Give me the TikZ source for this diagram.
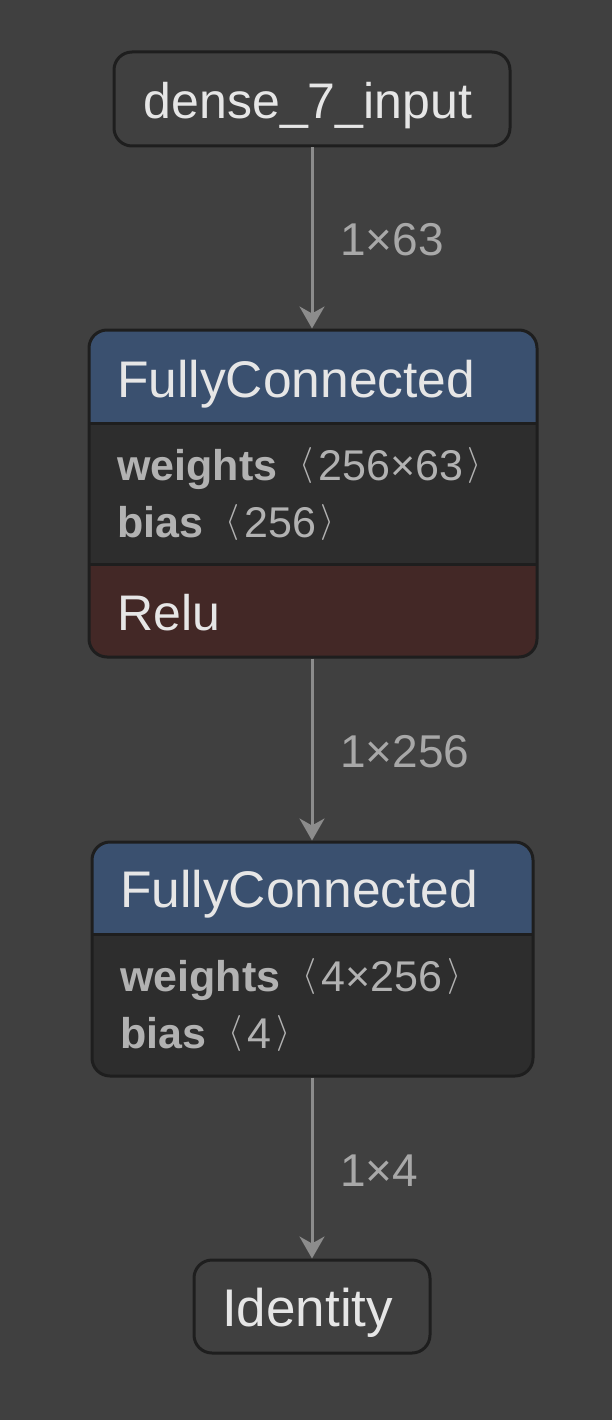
\documentclass[tikz,border=0pt]{standalone}
\usepackage{fontspec}
\setmainfont{Liberation Sans}
\usetikzlibrary{arrows.meta}
\definecolor{bg}{HTML}{404040}
\definecolor{edgeline}{HTML}{1E1E1E}
\definecolor{hdr}{HTML}{3A506F}
\definecolor{attrbg}{HTML}{2D2D2D}
\definecolor{actbg}{HTML}{432826}
\definecolor{titletxt}{HTML}{E6E6E6}
\definecolor{attrtxt}{HTML}{B2B2B2}
\definecolor{arrowc}{HTML}{8C8C8C}
\definecolor{labeltxt}{HTML}{A8A8A8}
\tikzset{
  plainbox/.style={draw=edgeline, line width=3pt, rounded corners=18pt, fill=bg, inner sep=0pt},
  outlinebox/.style={draw=edgeline, line width=3pt, rounded corners=18pt, inner sep=0pt},
  titletext/.style={text=titletxt, font=\fontsize{51.5}{60}\selectfont, inner sep=0pt, anchor=base west},
  attrtext/.style={text=attrtxt, font=\fontsize{43}{50}\selectfont, inner sep=0pt, anchor=base west},
  edgelabel/.style={text=labeltxt, font=\fontsize{46}{52}\selectfont, inner sep=0pt, anchor=base west},
  flow/.style={draw=arrowc, line width=3pt, -{Stealth[length=22pt,width=25pt,inset=7pt]}},
  sepline/.style={draw=edgeline, line width=3pt}
}
\newcommand{\lab}{\raisebox{6pt}{\resizebox*{!}{36pt}{$\langle$}}\hspace{5pt}}
\newcommand{\rab}{\hspace{5pt}\raisebox{6pt}{\resizebox*{!}{36pt}{$\rangle$}}}
\begin{document}
\begin{tikzpicture}[x=1pt,y=-1pt]
\fill[bg] (0,0) rectangle (612,1420);
\useasboundingbox (0,0) rectangle (612,1420);

% input node
\node[plainbox, minimum width=396pt, minimum height=94pt] (inp) at (312,99) {};
\node[titletext, anchor=base, font=\fontsize{50}{60}\selectfont] (inptxt) at (308,119) {dense\_7\_input};

% FC1 fills
\begin{scope}
\clip[rounded corners=18pt] (89,330) rectangle (537,657);
\fill[hdr] (89,330) rectangle (537,423);
\fill[attrbg] (89,423) rectangle (537,564);
\fill[actbg] (89,564) rectangle (537,657);
\end{scope}
\draw[sepline] (89,423) -- (537,423);
\draw[sepline] (89,564) -- (537,564);
\node[outlinebox, minimum width=448pt, minimum height=327pt] (fc1) at (313,493.5) {};
\node[titletext] (fc1title) at (117,397) {FullyConnected};
\node[attrtext] (fc1w) at (117,480) {\textbf{weights}\hspace{22pt}\lab256×63\rab};
\node[attrtext] (fc1b) at (117,537) {\textbf{bias}\hspace{22pt}\lab256\rab};
\node[titletext, font=\fontsize{50}{60}\selectfont] (fc1act) at (117,630) {Relu};

% FC2 fills
\begin{scope}
\clip[rounded corners=18pt] (92,842) rectangle (533,1076);
\fill[hdr] (92,842) rectangle (533,934);
\fill[attrbg] (92,934) rectangle (533,1076);
\end{scope}
\draw[sepline] (92,934) -- (533,934);
\node[outlinebox, minimum width=441pt, minimum height=234pt] (fc2) at (312.5,959) {};
\node[titletext] (fc2title) at (120,907) {FullyConnected};
\node[attrtext] (fc2w) at (120,991) {\textbf{weights}\hspace{22pt}\lab4×256\rab};
\node[attrtext] (fc2b) at (120,1048) {\textbf{bias}\hspace{22pt}\lab4\rab};

% Identity
\node[plainbox, minimum width=236pt, minimum height=93pt] (idn) at (312,1306.5) {};
\node[titletext, font=\fontsize{53}{60}\selectfont] (idntxt) at (222,1326) {Identity};

% connectors
\draw[flow] (inp.south) -- (inp.south |- fc1.north);
\draw[flow] (fc1.south -| inp.south) -- (inp.south |- fc2.north);
\draw[flow] (fc2.south -| inp.south) -- (idn.north);

\node[edgelabel] (l1) at (340,256) {1×63};
\node[edgelabel] (l2) at (340,767) {1×256};
\node[edgelabel] (l3) at (340,1186) {1×4};
\end{tikzpicture}
\end{document}
